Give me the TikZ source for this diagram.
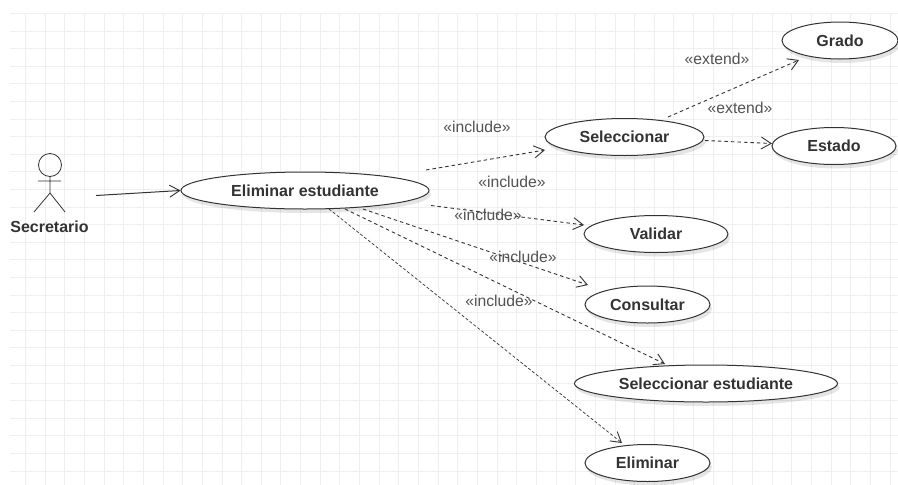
\documentclass[tikz,border=0pt]{standalone}
\usepackage{fontspec}
\setmainfont{Liberation Sans}
\usetikzlibrary{shapes.geometric,arrows.meta,shadows}
\definecolor{gridc}{HTML}{EFEFEF}
\definecolor{inkc}{HTML}{333333}
\tikzset{
  usecase/.style={ellipse,draw=inkc,line width=1pt,fill=white,inner sep=0pt,
    font=\fontsize{16pt}{18pt}\selectfont\bfseries,text=inkc,
    drop shadow={shadow xshift=2pt,shadow yshift=-4pt,fill=black,opacity=0.10}},
  deplink/.style={draw=inkc,line width=0.9pt,dash pattern=on 3.5pt off 3pt,
    -{Straight Barb[length=10pt,width=12pt,line width=0.9pt,color=inkc]}},
  deplinkthin/.style={deplink,line width=0.7pt,dash pattern=on 3pt off 2pt},
  steretype/.style={font=\fontsize{15.7pt}{18pt}\selectfont,text=inkc!85!white,inner sep=0pt},
  actorline/.style={draw=inkc,line width=0.8pt},
}
\begin{document}
\begin{tikzpicture}[x=1pt,y=-1pt]
\useasboundingbox (0,0) rectangle (898,485);
\fill[white] (0,0) rectangle (898,485);
% grid
\foreach \i in {0,...,26}{ \draw[gridc,line width=0.6pt] (10,{13.3+17.6*\i}) -- (898,{13.3+17.6*\i}); }
\foreach \i in {0,...,44}{ \draw[gridc,line width=0.6pt] ({25.3+19.65*\i},13) -- ({25.3+19.65*\i},485); }
% actor
\node[circle,draw=inkc,line width=0.8pt,minimum size=23pt,inner sep=0pt] (head) at (50,165) {};
\coordinate (hip) at (50,193);
\coordinate (armL) at (38,181);
\coordinate (armR) at (61,181);
\coordinate (legL) at (34,212);
\coordinate (legR) at (65,212);
\path[actorline] (head.south) -- (hip) (armL) -- (armR) (legL) -- (hip) -- (legR);
\node[font=\fontsize{16pt}{18pt}\selectfont\bfseries,text=inkc,inner sep=0pt] (sec) at (49.5,227) {Secretario};
% use cases
\node[usecase,minimum width=248pt,minimum height=37pt] (elim) at (305,190.5) {Eliminar estudiante};
\node[usecase,minimum width=159pt,minimum height=37pt] (sel) at (624.5,137) {Seleccionar};
\node[usecase,minimum width=116pt,minimum height=37pt] (gra) at (840,40.5) {Grado};
\node[usecase,minimum width=124pt,minimum height=37pt] (est) at (834,146) {Estado};
\node[usecase,minimum width=144pt,minimum height=37pt] (val) at (656,234) {Validar};
\node[usecase,minimum width=125pt,minimum height=37pt] (con) at (647.5,304.5) {Consultar};
\node[usecase,minimum width=263pt,minimum height=37pt] (sest) at (706,383.5) {Seleccionar estudiante};
\node[usecase,minimum width=125pt,minimum height=37pt] (eli) at (647.5,463) {Eliminar};
% connector ends
\coordinate (actorout) at (96,195.5);
\coordinate (aS) at (426,170);
\coordinate (aSe) at (545,150);
\coordinate (aV) at (431,205.5);
\coordinate (aVe) at (584,225);
\coordinate (aC) at (363,209);
\coordinate (aCe) at (588,285);
\coordinate (aE) at (345,209);
\coordinate (aEe) at (665,364);
\coordinate (aL) at (329,209);
\coordinate (aLe) at (622,443);
\coordinate (bG) at (668,117);
\coordinate (bGe) at (799,60);
\coordinate (bE) at (705,140.5);
\coordinate (bEe) at (772,143.5);
% connectors
\draw[draw=inkc,line width=1pt,-{Straight Barb[length=10pt,width=12pt,line width=0.9pt,color=inkc]}] (actorout) -- (elim.west);
\draw[deplink] (aS) -- (aSe);
\draw[deplink] (aV) -- (aVe);
\draw[deplink] (aC) -- (aCe);
\draw[deplink] (aE) -- (aEe);
\draw[deplinkthin] (aL) -- (aLe);
\draw[deplink] (bG) -- (bGe);
\draw[deplink] (bE) -- (bEe);
% labels
\node[steretype] (l1) at (477,127) {«include»};
\node[steretype] (l2) at (512,182) {«include»};
\node[steretype] (l3) at (488,215) {«include»};
\node[steretype] (l4) at (523,257) {«include»};
\node[steretype] (l5) at (499,301) {«include»};
\node[steretype] (l6) at (717,59) {«extend»};
\node[steretype] (l7) at (740,108) {«extend»};
\end{tikzpicture}
\end{document}
